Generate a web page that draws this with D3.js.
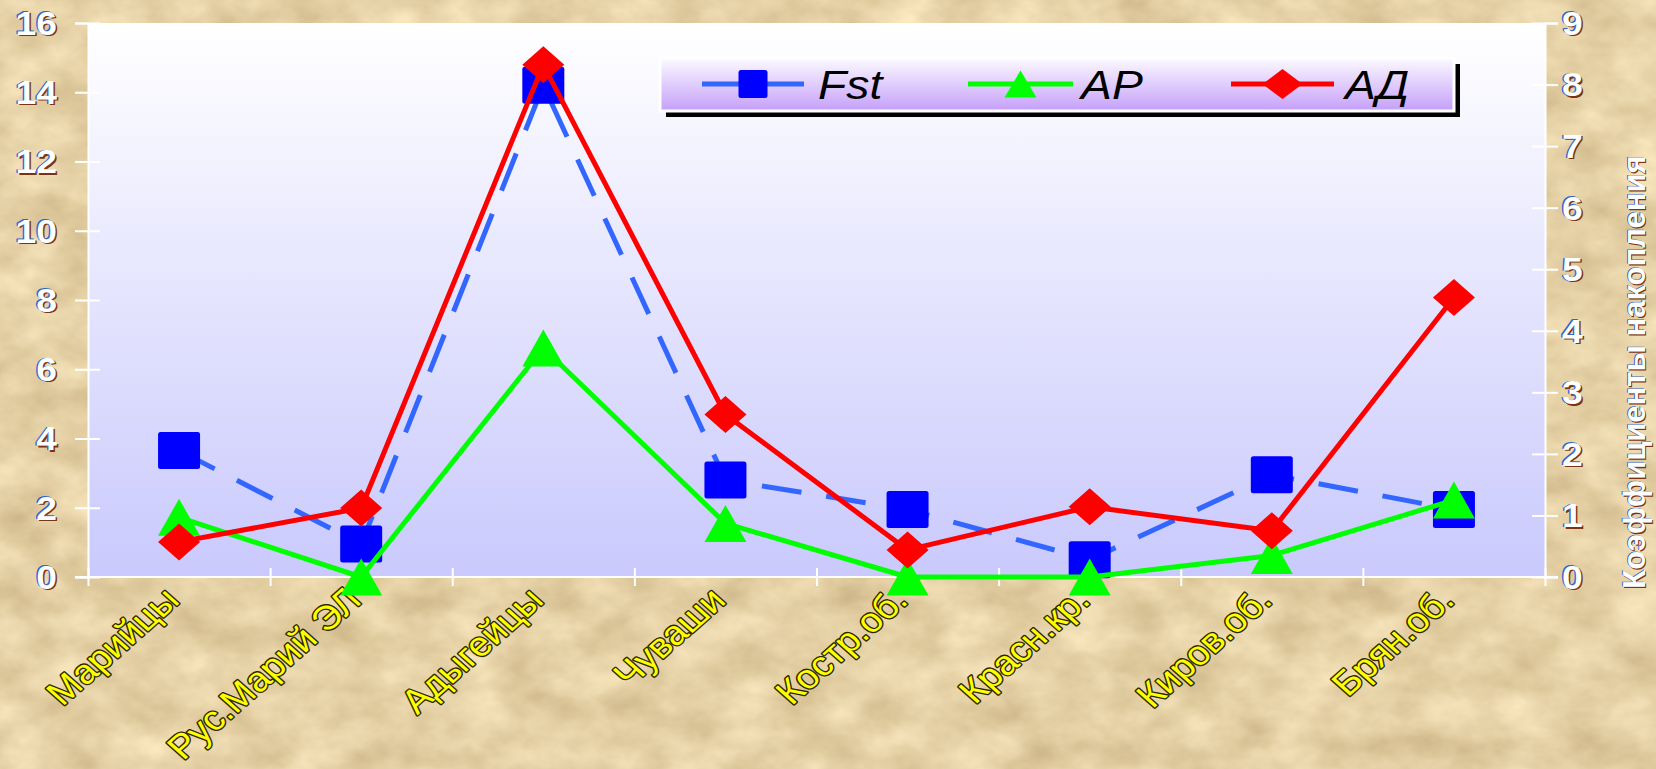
<!DOCTYPE html>
<html>
<head>
<meta charset="utf-8">
<script src="https://cdn.jsdelivr.net/npm/d3@7"></script>
<style>
  html, body { margin: 0; padding: 0; overflow: hidden; background: #e6cfa0; }
  svg { display: block; }
</style>
</head>
<body>
<svg id="chart" width="1656" height="769"></svg>
<script>
// Populations along the x axis
const categories = ["Марийцы", "Рус.Марий ЭЛ", "Адыгейцы", "Чуваши", "Костр.об.", "Красн.кр.", "Киров.об.", "Брян.об."];
// Fst on the left axis
const fstValues = [3.65, 0.95, 14.2, 2.8, 1.95, 0.5, 2.95, 1.95];
// Accumulation coefficients on the right axis
const arValues = [0.97, 0, 3.72, 0.87, 0, 0, 0.35, 1.25];
const adValues = [0.57, 1.12, 8.32, 2.64, 0.44, 1.14, 0.75, 4.54];
const seriesNames = ["Fst", "АР", "АД"];
const leftTicks = [0, 2, 4, 6, 8, 10, 12, 14, 16];
const rightTicks = [0, 1, 2, 3, 4, 5, 6, 7, 8, 9];
const rightAxisTitle = "Коэффициенты накопления";

const W = 1656, H = 769;
const SX = 1.13;               // horizontal stretch applied to the lettering
const FONT = "'Liberation Sans', Arial, sans-serif";
const plot = { left: 88, right: 1545, top: 23, bottom: 577 };

const svg = d3.select("#chart");
const defs = svg.append("defs");

// parchment background
const tex = defs.append("filter").attr("id", "parchment")
  .attr("filterUnits", "userSpaceOnUse").attr("x", 0).attr("y", 0).attr("width", W).attr("height", H)
  .attr("color-interpolation-filters", "sRGB");
tex.append("feTurbulence").attr("type", "fractalNoise").attr("baseFrequency", "0.018 0.026")
  .attr("numOctaves", 4).attr("seed", 7).attr("result", "n");
tex.append("feColorMatrix").attr("in", "n").attr("type", "matrix")
  .attr("values", "0.22 0 0 0 0.79  0.24 0 0 0 0.70  0.27 0 0 0 0.515  0 0 0 0 1");
svg.append("rect").attr("width", W).attr("height", H).attr("filter", "url(#parchment)");

// plot-area gradient
const pg = defs.append("linearGradient").attr("id", "plotFill").attr("x1", 0).attr("y1", 0).attr("x2", 0).attr("y2", 1);
pg.append("stop").attr("offset", "0%").attr("stop-color", "#ffffff");
pg.append("stop").attr("offset", "100%").attr("stop-color", "#c9c9fd");

const lg = defs.append("linearGradient").attr("id", "legendFill").attr("x1", 0).attr("y1", 0).attr("x2", 0).attr("y2", 1);
lg.append("stop").attr("offset", "0%").attr("stop-color", "#fcfaff");
lg.append("stop").attr("offset", "100%").attr("stop-color", "#c59ffa");

// scales
const x = d3.scaleBand().domain(categories).range([plot.left, plot.right]).padding(0);
const xEdge = d3.scaleLinear().domain([0, categories.length]).range([plot.left, plot.right]);
const yL = d3.scaleLinear().domain([0, 16]).range([plot.bottom, plot.top]);
const yR = d3.scaleLinear().domain([0, 9]).range([plot.bottom, plot.top]);
const cx = c => x(c) + x.bandwidth() / 2;

svg.append("rect").attr("x", plot.left).attr("y", plot.top)
  .attr("width", plot.right - plot.left).attr("height", plot.bottom - plot.top)
  .attr("fill", "url(#plotFill)");

// embossed white lettering
function emboss(parent, tx, ty, text, o) {
  const sx = o.sx === undefined ? SX : o.sx;
  const g = parent.append("g")
    .attr("transform", `translate(${tx},${ty}) scale(${sx},1)` + (o.rotate ? ` rotate(${o.rotate})` : ""))
    .attr("font-family", FONT).attr("font-weight", "bold").attr("font-size", o.size)
    .attr("text-anchor", o.anchor);
  const layers = o.layers || [["#7a3414", 1.3, 1.3], ["#2f66c8", -1.3, -0.5], ["#ffffff", 0, 0]];
  layers.forEach(([c, dx, dy]) => {
    g.append("text").attr("x", dx).attr("y", dy).attr("dy", "0.36em").attr("fill", c).text(text);
  });
}

// axes
const axisStyle = g => {
  g.selectAll(".domain").attr("stroke", "#ffffff").attr("stroke-width", 2);
  g.selectAll(".tick line").attr("stroke", "#ffffff").attr("stroke-width", 2);
  g.selectAll(".tick text").remove();
};

svg.append("g").attr("transform", `translate(${plot.left},0)`)
  .call(d3.axisLeft(yL).tickValues(leftTicks).tickSizeOuter(0).tickSize(13))
  .call(axisStyle)
  .call(g => g.selectAll(".tick line").attr("x1", 12));

svg.append("g").attr("transform", `translate(${plot.right},0)`)
  .call(d3.axisRight(yR).tickValues(rightTicks).tickSizeOuter(0).tickSize(13))
  .call(axisStyle)
  .call(g => g.selectAll(".tick line").attr("x1", -13));

svg.append("g").attr("transform", `translate(0,${plot.bottom})`)
  .call(d3.axisBottom(xEdge).tickValues(d3.range(categories.length + 1)).tickSizeOuter(0).tickSize(9))
  .call(axisStyle)
  .call(g => g.selectAll(".tick line").attr("y1", -9))
  .call(g => g.select(".domain").attr("d", `M${plot.left - 13},0H${plot.right + 13}`));

// tick labels
leftTicks.forEach(v => emboss(svg, 57, yL(v), String(v), { size: 33, anchor: "end" }));
rightTicks.forEach(v => emboss(svg, 1562, yR(v), String(v), { size: 33, anchor: "start" }));
emboss(svg, 1634, 372, rightAxisTitle, {
  size: 31, anchor: "middle", rotate: -90, sx: 1,
  layers: [["#7a3414", -1.3, 1.3], ["#2f66c8", 0.5, -1.3], ["#ffffff", 0, 0]]
});

// category labels
const catG = svg.append("g").attr("font-family", FONT).attr("font-size", 34)
  .attr("text-anchor", "end");
catG.selectAll("text").data(categories).join("text")
  .attr("transform", d => `translate(${cx(d) + 2},${602}) scale(${SX},1) rotate(-45)`)
  .attr("fill", "#ffff00").attr("stroke", "#2a2600").attr("stroke-width", 2.6)
  .attr("paint-order", "stroke").attr("stroke-linejoin", "round")
  .text(d => d);

// marker shapes
const MW = 42, MH = 37;
const trianglePath = (w, h) => `M0,${-h/2}L${w/2},${h/2}L${-w/2},${h/2}Z`;
const diamondPath = (w, h) => `M0,${-h/2}L${w/2},0L0,${h/2}L${-w/2},0Z`;

const series = [
  { name: seriesNames[0], values: fstValues, y: yL, color: "#3366ff", marker: "#0000ff", dash: "40 25", shape: "square" },
  { name: seriesNames[1], values: arValues, y: yR, color: "#00ff00", marker: "#00ff00", dash: null, shape: "triangle" },
  { name: seriesNames[2], values: adValues, y: yR, color: "#ff0000", marker: "#ff0000", dash: null, shape: "diamond" }
];

function drawMarker(g, shape, color, w, h) {
  if (shape === "square") {
    g.append("rect").attr("x", -w/2).attr("y", -h/2).attr("width", w).attr("height", h)
      .attr("rx", 2.5).attr("fill", color);
  } else {
    g.append("path").attr("d", shape === "triangle" ? trianglePath(w, h) : diamondPath(w, h)).attr("fill", color);
  }
}

series.forEach(s => {
  const g = svg.append("g");
  const line = d3.line().x((d, i) => cx(categories[i])).y(d => s.y(d));
  g.append("path").datum(s.values).attr("d", line)
    .attr("fill", "none").attr("stroke", s.color).attr("stroke-width", 5)
    .attr("stroke-dasharray", s.dash).attr("stroke-linejoin", "round");
  s.values.forEach((v, i) => {
    const m = g.append("g").attr("transform", `translate(${cx(categories[i])},${s.y(v)})`);
    drawMarker(m, s.shape, s.marker, MW, MH);
  });
});

// legend
const leg = { x: 660, y: 58, w: 794, h: 53 };
svg.append("rect").attr("x", leg.x + 6).attr("y", leg.y + 6).attr("width", leg.w).attr("height", leg.h).attr("fill", "#000");
svg.append("rect").attr("x", leg.x).attr("y", leg.y).attr("width", leg.w).attr("height", leg.h)
  .attr("fill", "url(#legendFill)").attr("stroke", "#ffffff").attr("stroke-width", 3);
const legItems = [
  { lineX: 702, lineW: 102, textX: 818, w: 29, h: 28 },
  { lineX: 968, lineW: 105, textX: 1081, w: 32, h: 27 },
  { lineX: 1231, lineW: 103, textX: 1345, w: 40, h: 30 }
];
const ly = 84;
series.forEach((s, i) => {
  const it = legItems[i];
  svg.append("line").attr("x1", it.lineX).attr("x2", it.lineX + it.lineW).attr("y1", ly).attr("y2", ly)
    .attr("stroke", s.color).attr("stroke-width", 5);
  const m = svg.append("g").attr("transform", `translate(${it.lineX + it.lineW / 2},${ly})`);
  drawMarker(m, s.shape, s.marker, it.w, it.h);
  svg.append("text").attr("transform", `translate(${it.textX},${ly}) scale(${SX},1)`)
    .attr("dy", "0.36em").attr("font-family", FONT).attr("font-style", "italic")
    .attr("font-size", 41).attr("fill", "#000").text(s.name);
});
</script>
</body>
</html>
